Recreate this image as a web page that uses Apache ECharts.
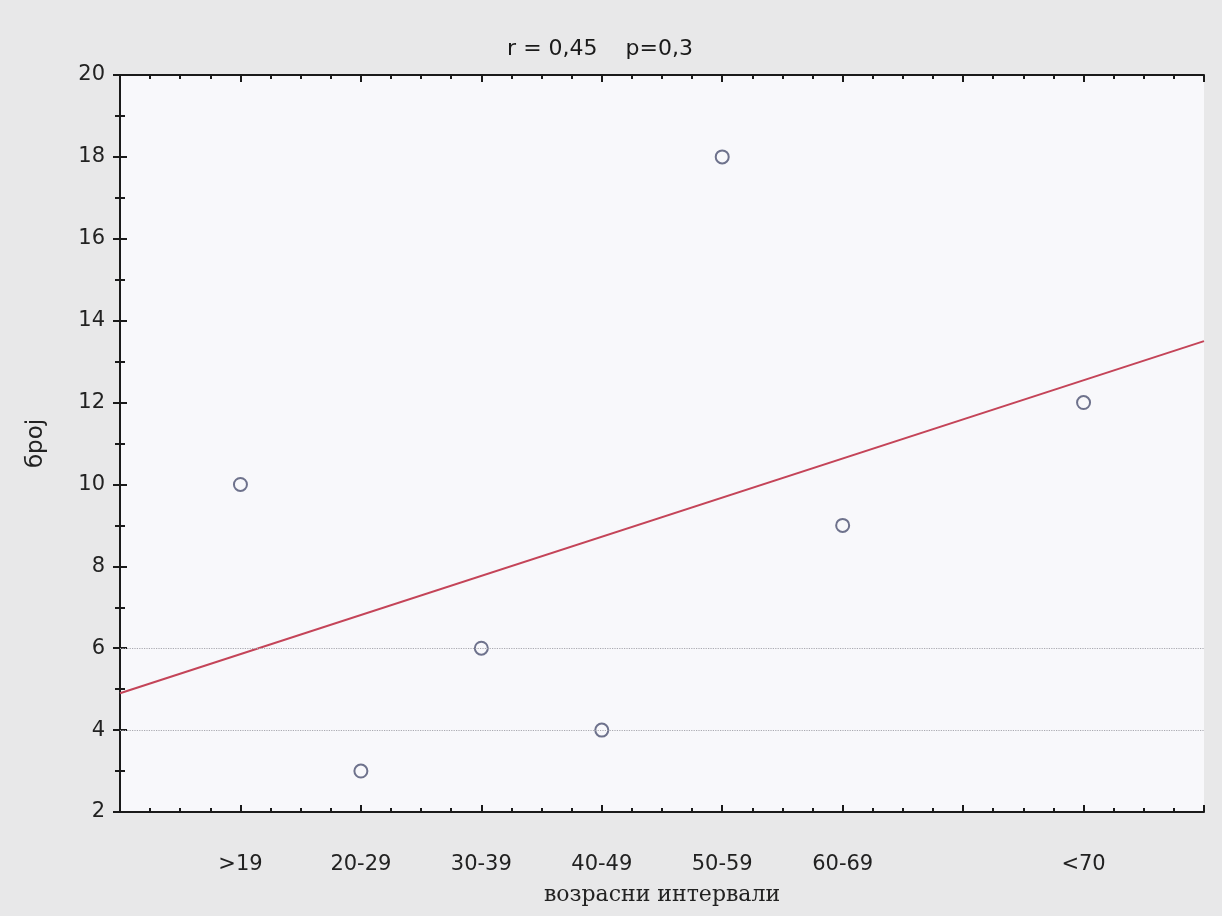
<!DOCTYPE html>
<html>
<head>
<meta charset="utf-8">
<script src="https://cdn.jsdelivr.net/npm/echarts@6/dist/echarts.min.js"></script>
<style>
  html, body { margin: 0; padding: 0; background: #e8e8e9; }
  #main { width: 1222px; height: 916px; }
</style>
</head>
<body>
<div id="main"></div>
<script>
// age groups and their positions on the x scale
const categories = ['>19', '20-29', '30-39', '40-49', '50-59', '60-69', '<70']
const xPos = [1, 2, 3, 4, 5, 6, 8]
const counts = [10, 3, 6, 4, 18, 9, 12]
// fitted line (x = 0 and x = 9)
const fitX = [0, 9]
const fitY = [4.9, 13.5]
const refLines = [4, 6]

const chartDom = document.getElementById('main')
const myChart = echarts.init(chartDom)

const points = xPos.map((x, i) => [x, counts[i]])
const fit = fitX.map((x, i) => [x, fitY[i]])

const baseFont = 'DejaVu Sans, Arial, sans-serif'
const frame = { show: true, lineStyle: { color: '#1a1a1a', width: 2 } }
const tick = { show: true, inside: true, length: 7, lineStyle: { color: '#1a1a1a', width: 2 } }

const option = {
  backgroundColor: '#e8e8e9',
  title: {
    text: 'r = 0,45    p=0,3',
    left: 595,
    top: 33,
    textAlign: 'center',
    textStyle: { fontFamily: baseFont, fontSize: 22, fontWeight: 'normal', color: '#1a1a1a' }
  },
  grid: {
    left: 120,
    right: 18,
    top: 75,
    bottom: 104,
    show: true,
    backgroundColor: '#f8f8fb',
    borderWidth: 0
  },
  xAxis: [
    {
      type: 'value',
      min: 0,
      max: 9,
      interval: 1,
      position: 'bottom',
      name: 'возрасни интервали',
      nameLocation: 'middle',
      nameGap: 72,
      nameTextStyle: { fontFamily: 'DejaVu Serif, Liberation Serif, serif', fontSize: 22, color: '#222' },
      axisLine: frame,
      axisTick: tick,
      minorTick: { show: true, splitNumber: 4, length: 4, lineStyle: { color: '#1a1a1a', width: 2 } },
      splitLine: { show: false },
      axisLabel: {
        margin: 42,
        fontFamily: baseFont,
        fontSize: 21,
        color: '#222',
        formatter: function (v) {
          const i = xPos.indexOf(v)
          return i === -1 ? '' : categories[i]
        }
      }
    },
    {
      type: 'value',
      min: 0,
      max: 9,
      interval: 1,
      position: 'top',
      axisLine: frame,
      axisTick: tick,
      minorTick: { show: true, splitNumber: 4, length: 4, lineStyle: { color: '#1a1a1a', width: 2 } },
      splitLine: { show: false },
      axisLabel: { show: false }
    }
  ],
  yAxis: [
    {
      type: 'value',
      min: 2,
      max: 20,
      interval: 2,
      position: 'left',
      name: 'број',
      nameLocation: 'middle',
      nameGap: 72,
      nameTextStyle: { fontFamily: baseFont, fontSize: 23, color: '#222' },
      axisLine: frame,
      axisTick: tick,
      minorTick: { show: true, splitNumber: 2, length: 5, lineStyle: { color: '#1a1a1a', width: 2 } },
      splitLine: { show: false },
      axisLabel: { margin: 15, fontFamily: baseFont, fontSize: 21, color: '#222' }
    },
    {
      type: 'value',
      min: 2,
      max: 20,
      interval: 2,
      position: 'right',
      axisLine: frame,
      axisTick: tick,
      minorTick: { show: true, splitNumber: 2, length: 5, lineStyle: { color: '#1a1a1a', width: 2 } },
      splitLine: { show: false },
      axisLabel: { show: false }
    }
  ],
  series: [
    {
      type: 'line',
      data: fit,
      symbol: 'none',
      silent: true,
      lineStyle: { color: '#c44458', width: 2 },
      markLine: {
        silent: true,
        symbol: 'none',
        label: { show: false },
        lineStyle: { color: '#a9a9b0', type: 'dotted', width: 1.2 },
        data: refLines.map(v => ({ yAxis: v }))
      },
      z: 3
    },
    {
      type: 'scatter',
      data: points,
      symbol: 'circle',
      symbolSize: 13,
      itemStyle: { color: 'rgba(0,0,0,0)', borderColor: '#4b5070', borderWidth: 2 },
      z: 4
    }
  ]
}

myChart.setOption(option)
window.addEventListener('resize', () => {
  myChart.resize()
})
</script>
</body>
</html>
